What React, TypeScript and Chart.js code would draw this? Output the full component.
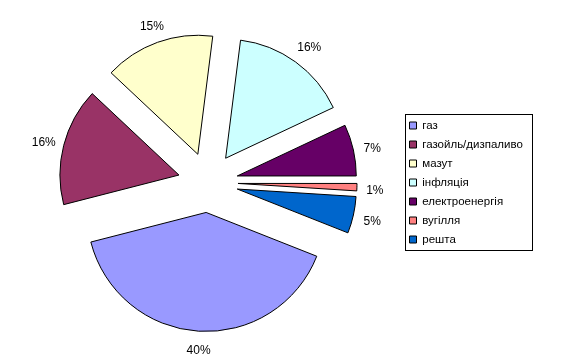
import React, { useEffect, useRef } from "react";
import { Chart, registerables } from "chart.js";

Chart.register(...registerables);

// ---- data ----
const categories = [
  "газ",
  "газойль/дизпаливо",
  "мазут",
  "інфляція",
  "електроенергія",
  "вугілля",
  "решта",
];
const shares = [40, 16, 15, 16, 7, 1, 5];
const sliceColors = [
  "#9999FF",
  "#993366",
  "#FFFFCC",
  "#CCFFFF",
  "#660066",
  "#FF8080",
  "#0066CC",
];

const W = 570;
const H = 362;
const EXPLODE = 30;
const RADIUS = 119;
const ROTATION = 111.6;
const FONT = '"Liberation Sans", Arial, sans-serif';
const LEGEND_FONT_SIZE = 11.5;
const LEGEND_PAD = 7.5;
const LEGEND_BOX = 7;
const LEGEND_LEFT = 402;
const CENTER_X = 208;

const explodePlugin = {
  id: "explodeSlices",
  afterDatasetUpdate(chart: any, args: any) {
    const meta = chart.getDatasetMeta(args.index);
    meta.data.forEach((arc: any) => {
      const mid = (arc.startAngle + arc.endAngle) / 2;
      arc.x += Math.cos(mid) * EXPLODE;
      arc.y += Math.sin(mid) * EXPLODE;
    });
  },
};

const labelPlugin = {
  id: "sliceLabels",
  afterDatasetsDraw(chart: any) {
    const ctx = chart.ctx;
    const meta = chart.getDatasetMeta(0);
    const total = shares.reduce((a, b) => a + b, 0);
    ctx.save();
    ctx.font = `12px ${FONT}`;
    ctx.fillStyle = "#000";
    ctx.textAlign = "center";
    ctx.textBaseline = "middle";
    meta.data.forEach((arc: any, i: number) => {
      const text = Math.round((shares[i] / total) * 100) + "%";
      const mid = (arc.startAngle + arc.endAngle) / 2;
      const dx = Math.cos(mid);
      const dy = Math.sin(mid);
      const w = ctx.measureText(text).width;
      const d = arc.outerRadius + 8 + (w / 2) * Math.abs(dx) + 8 * Math.abs(dy);
      ctx.fillText(text, arc.x + dx * d + 1, arc.y + dy * d + 3);
    });
    ctx.restore();
  },
};

const legendBoxPlugin = {
  id: "legendBorder",
  afterDraw(chart: any) {
    const hb = chart.legend && chart.legend.legendHitBoxes;
    if (!hb || !hb.length) return;
    const ctx = chart.ctx;
    const left = Math.min(...hb.map((h: any) => h.left)) - 5;
    const top = Math.min(...hb.map((h: any) => h.top)) - 6;
    const right = Math.max(...hb.map((h: any) => h.left + h.width)) + 9;
    const bottom = Math.max(...hb.map((h: any) => h.top + h.height)) + 4;
    ctx.save();
    ctx.strokeStyle = "#000";
    ctx.lineWidth = 1;
    ctx.strokeRect(
      Math.round(left) + 0.5,
      Math.round(top) + 0.5,
      Math.round(right - left),
      Math.round(bottom - top)
    );
    ctx.restore();
  },
};

export default function App() {
  const ref = useRef<HTMLCanvasElement | null>(null);

  useEffect(() => {
    if (!ref.current) return;
    Chart.defaults.font.family = FONT;
    Chart.defaults.color = "#000";

    // measure legend text to place the legend box
    const m = document.createElement("canvas").getContext("2d")!;
    m.font = `${LEGEND_FONT_SIZE}px ${FONT}`;
    const textW = Math.max(...categories.map((c) => m.measureText(c).width));
    const legendWidth =
      LEGEND_PAD + LEGEND_BOX + LEGEND_FONT_SIZE / 2 + textW + 10;
    const padRight = W - LEGEND_LEFT - legendWidth;
    const padLeft = 2 * CENTER_X - LEGEND_LEFT;

    const chart = new Chart(ref.current, {
      type: "pie",
      data: {
        labels: categories,
        datasets: [
          {
            data: shares,
            backgroundColor: sliceColors,
            borderColor: "#000",
            borderWidth: 1,
            radius: RADIUS,
            clip: false as any,
          } as any,
        ],
      },
      options: {
        responsive: false,
        animation: false,
        rotation: ROTATION,
        layout: {
          padding: { left: padLeft, right: padRight, top: 3, bottom: 0 },
        },
        plugins: {
          legend: {
            display: true,
            position: "right",
            align: "center",
            labels: {
              boxWidth: LEGEND_BOX,
              boxHeight: LEGEND_BOX,
              padding: LEGEND_PAD,
              color: "#000",
              font: { size: LEGEND_FONT_SIZE, family: FONT },
            },
          },
          tooltip: { enabled: false },
        },
      },
      plugins: [explodePlugin, labelPlugin, legendBoxPlugin],
    });
    return () => chart.destroy();
  }, []);

  return (
    <div
      style={{
        position: "absolute",
        left: 0,
        top: 0,
        width: W,
        height: H,
        background: "#fff",
      }}
    >
      <canvas
        ref={ref}
        width={W}
        height={H}
        style={{ width: W, height: H, display: "block" }}
      />
    </div>
  );
}
